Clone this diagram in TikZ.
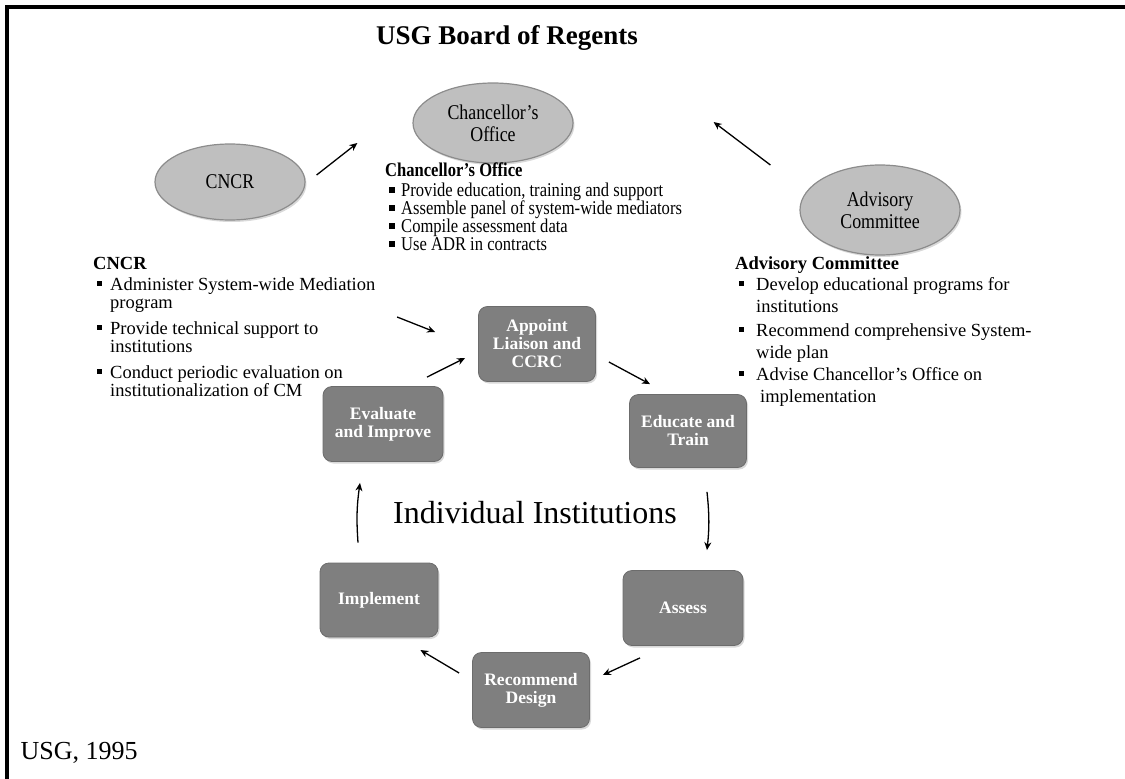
\documentclass[tikz,border=0pt]{standalone}
\usepackage{fontspec}
\setmainfont{Liberation Serif}
\newfontfamily\narrowfont[FakeStretch=0.85,Ligatures=TeX]{Liberation Serif}
\usetikzlibrary{shapes.geometric,arrows.meta,shadows}

\definecolor{ovalfill}{HTML}{BFBFBF}
\definecolor{ovaledge}{HTML}{8C8C8C}
\definecolor{stepfill}{HTML}{7F7F7F}

\newcommand{\sqbul}{\rule[0.22em]{0.28em}{0.28em}}
\newcommand{\bul}[1]{\hspace*{4pt}\makebox[#1][l]{\sqbul}}
\newcommand{\cont}[1]{\hspace*{\dimexpr 4pt+#1\relax}}

\tikzset{
    oval/.style={ellipse, draw=ovaledge, line width=1.2pt, fill=ovalfill,
        inner sep=0pt, align=center, font=\narrowfont\fontsize{21}{22}\selectfont,
        drop shadow={shadow xshift=1.5pt, shadow yshift=-2pt, opacity=0.3}},
    stepbox/.style={rectangle, rounded corners=9pt, fill=stepfill,
        draw=stepfill!85!black, line width=0.8pt, minimum width=117pt,
        minimum height=74pt, align=center, text=white,
        font=\bfseries\fontsize{17.5}{18}\selectfont,
        drop shadow={shadow xshift=1.5pt, shadow yshift=-2pt, opacity=0.3}},
    listtxt/.style={anchor=north west, inner sep=0pt, align=left},
    arr/.style={-{Stealth[length=8pt,width=7pt]}, line width=1.3pt}
}

\begin{document}
\begin{tikzpicture}[x=1pt, y=-1pt]
        \useasboundingbox (0,0) rectangle (1125,779);
        \draw [line width=3.5pt] (5,7) -- (1125,7);
        \draw [line width=3.5pt] (7,5) -- (7,779);

        \node [anchor=base, font=\bfseries\fontsize{27}{28}\selectfont] (title) at (507,45) {USG Board of Regents};

        \node [oval, minimum width=160pt, minimum height=80pt] (chanc) at (493,123) {Chancellor's\\Office};
        \node [oval, minimum width=150pt, minimum height=76pt] (cncr) at (230,182) {CNCR};
        \node [oval, minimum width=160pt, minimum height=90pt] (adv) at (880,210) {Advisory\\Committee};

        \node [listtxt, font=\narrowfont\fontsize{19.5}{18}\selectfont] (chanclist) at (385,163) {%
            \textbf{Chancellor's Office}\\[2pt]
            \bul{12pt}Provide education, training and support\\
            \bul{12pt}Assemble panel of system-wide mediators\\
            \bul{12pt}Compile assessment data\\
            \bul{12pt}Use ADR in contracts};

        \node [listtxt, font=\fontsize{18.5}{18}\selectfont] (cncrlist) at (93,257) {%
            \textbf{CNCR}\\[3pt]
            \bul{13pt}Administer System-wide Mediation\\
            \cont{13pt}program\\[8pt]
            \bul{13pt}Provide technical support to\\
            \cont{13pt}institutions\\[8pt]
            \bul{13pt}Conduct periodic evaluation on\\
            \cont{13pt}institutionalization of CM};

        \node [listtxt, font=\fontsize{18.5}{21.5}\selectfont] (advlist) at (735,256) {%
            \textbf{Advisory Committee}\\
            \bul{17pt}Develop educational programs for\\
            \cont{17pt}institutions\\[3pt]
            \bul{17pt}Recommend comprehensive System-\\
            \cont{17pt}wide plan\\[1pt]
            \bul{17pt}Advise Chancellor's Office on\\
            \cont{21pt}implementation};

        \node [stepbox, minimum height=75pt] (appoint) at (537,344) {Appoint\\Liaison and\\CCRC};
        \node [stepbox, minimum height=73pt] (educ) at (688,431) {Educate and\\Train};
        \node [stepbox, minimum width=120pt, minimum height=75pt] (assess) at (683,608) {Assess};
        \node [stepbox, minimum height=75pt] (recom) at (531,690) {Recommend\\Design};
        \node [stepbox, minimum width=118pt] (impl) at (379,600) {Implement};
        \node [stepbox, minimum width=120pt, minimum height=75pt] (eval) at (383,424) {Evaluate\\and Improve};

        \node [anchor=base, font=\fontsize{32}{33}\selectfont] (inst) at (535,523) {Individual Institutions};
        \node [anchor=base west, font=\fontsize{26}{27}\selectfont] (source) at (17,759) {USG, 1995};

        \draw [arr] ([shift={(11,-7)}]cncr.east) -- ([shift={(-55,20)}]chanc.west);
        \draw [arr] ([shift={(-29,-45)}]adv.west) -- ([shift={(140,-1)}]chanc.east);
        \draw [arr] ([shift={(-81,-27)}]appoint.west) -- ([shift={(-43,-12)}]appoint.west);
        \draw [arr] ([shift={(44,-9)}]eval.north) -- ([shift={(-13,14)}]appoint.west);
        \draw [arr] ([shift={(13,18)}]appoint.east) -- ([shift={(-38,-10)}]educ.north);
        \draw [arr] ([shift={(19,24)}]educ.south) to[bend left=6] ([shift={(24,-20)}]assess.north);
        \draw [arr] ([shift={(-43,12)}]assess.south) -- ([shift={(13,-15)}]recom.east);
        \draw [arr] ([shift={(-13,-17)}]recom.west) -- ([shift={(-18,50)}]impl.east);
        \draw [arr] ([shift={(-21,-20)}]impl.north) to[bend left=6] ([shift={(-23,21)}]eval.south);
    \end{tikzpicture}
\end{document}
